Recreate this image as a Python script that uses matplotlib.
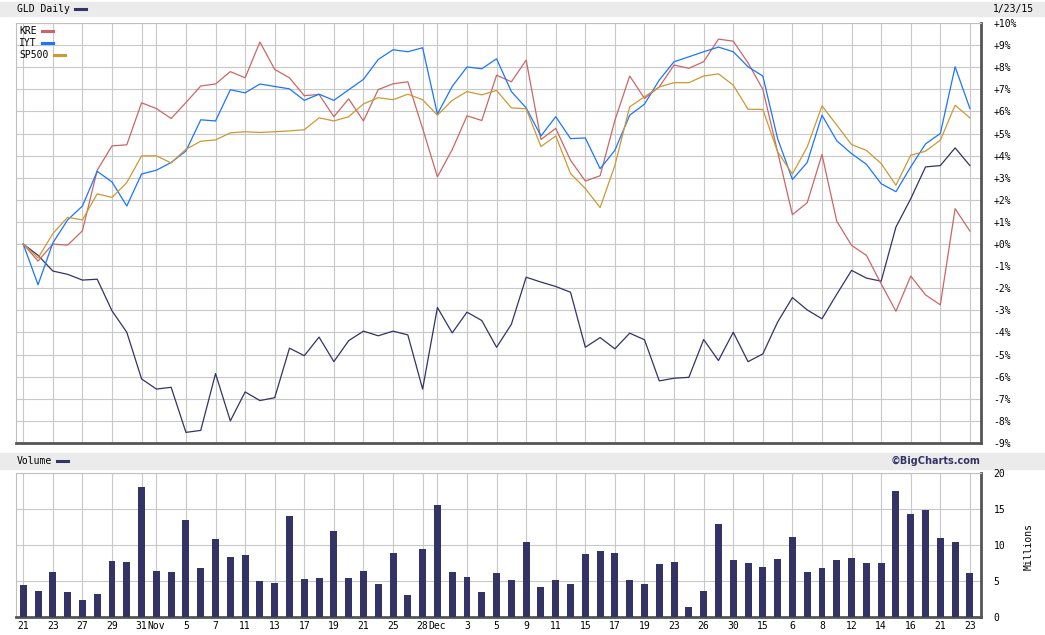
import numpy as np
import matplotlib
matplotlib.use('Agg')
import matplotlib.pyplot as plt
from matplotlib.lines import Line2D
from matplotlib.patches import Rectangle

# Dados (variação % desde 21/10/2014)
gld = [0, -0.51, -1.22, -1.37, -1.63, -1.59, -3.02, -3.99, -6.10, -6.56, -6.48, -8.52, -8.43, -5.86, -8.00, -6.69, -7.08,
       -6.95, -4.71, -5.05, -4.21, -5.32, -4.37, -3.94, -4.15, -3.94, -4.11, -6.56, -2.87, -4.02, -3.08, -3.46, -4.67, -3.63,
       -1.50, -1.72, -1.92, -2.18, -4.67, -4.23, -4.74, -4.03, -4.33, -6.19, -6.07, -6.03, -4.32, -5.27, -3.99, -5.32, -4.97,
       -3.53, -2.42, -2.98, -3.38, -2.27, -1.19, -1.54, -1.68, 0.77, 2.05, 3.49, 3.55, 4.35, 3.55]
kre = [0, -0.77, 0, -0.05, 0.6, 3.34, 4.44, 4.49, 6.39, 6.13, 5.68, 6.4, 7.15, 7.24, 7.8, 7.52, 9.14,
       7.9, 7.52, 6.71, 6.77, 5.76, 6.57, 5.57, 6.99, 7.25, 7.34, 5.23, 3.04, 4.27, 5.8, 5.59, 7.64, 7.34,
       8.32, 4.73, 5.23, 3.79, 2.85, 3.09, 5.6, 7.6, 6.59, 7.11, 8.1, 7.95, 8.25, 9.27, 9.18, 8.2, 7.0,
       4.17, 1.33, 1.87, 4.05, 1.03, -0.06, -0.51, -1.8, -3.04, -1.45, -2.3, -2.75, 1.6, 0.59]
iyt = [0, -1.84, 0.05, 1.09, 1.72, 3.29, 2.81, 1.72, 3.17, 3.34, 3.69, 4.21, 5.62, 5.57, 6.98, 6.84, 7.24,
       7.13, 7.02, 6.5, 6.78, 6.5, 6.98, 7.45, 8.35, 8.79, 8.7, 8.88, 5.88, 7.13, 8.01, 7.93, 8.38, 6.9,
       6.16, 4.89, 5.76, 4.77, 4.8, 3.41, 4.24, 5.83, 6.33, 7.42, 8.25, 8.47, 8.7, 8.91, 8.7, 8.02, 7.6,
       4.77, 2.92, 3.69, 5.83, 4.67, 4.09, 3.61, 2.73, 2.37, 3.49, 4.53, 5.0, 8.02, 6.13]
sp500 = [0, -0.63, 0.47, 1.21, 1.09, 2.27, 2.11, 2.78, 3.99, 3.99, 3.67, 4.29, 4.65, 4.71, 5.03, 5.08, 5.05,
         5.08, 5.12, 5.17, 5.71, 5.57, 5.76, 6.34, 6.62, 6.53, 6.78, 6.53, 5.83, 6.5, 6.9, 6.75, 6.95, 6.16,
         6.12, 4.41, 4.89, 3.19, 2.51, 1.65, 3.56, 6.21, 6.66, 7.11, 7.3, 7.3, 7.6, 7.7, 7.19, 6.1, 6.09,
         4.17, 3.17, 4.39, 6.25, 5.38, 4.5, 4.24, 3.64, 2.66, 4.02, 4.2, 4.7, 6.28, 5.71]
volume = [4.46, 3.6, 6.3, 3.5, 2.35, 3.2, 7.8, 7.7, 18.1, 6.4, 6.3, 13.5, 6.85, 10.8, 8.4, 8.55, 5.0,
          4.75, 14.0, 5.3, 5.45, 11.9, 5.45, 6.4, 4.6, 8.95, 3.05, 9.5, 15.6, 6.3, 5.6, 3.5, 6.15, 5.15,
          10.4, 4.2, 5.15, 4.6, 8.7, 9.1, 8.95, 5.15, 4.6, 7.4, 7.7, 1.35, 3.6, 12.9, 7.85, 7.55, 7.0,
          8.1, 11.1, 6.3, 6.85, 7.85, 8.25, 7.55, 7.55, 17.55, 14.3, 14.9, 10.95, 10.4, 6.15]

tick_pos = [0, 2, 4, 6, 8, 9, 11, 13, 15, 17, 19, 21, 23, 25, 27, 28, 30, 32, 34, 36, 38, 40, 42, 44,
            46, 48, 50, 52, 54, 56, 58, 60, 62, 64]
tick_lbl = ['21', '23', '27', '29', '31', 'Nov', '5', '7', '11', '13', '17', '19', '21', '25', '28', 'Dec',
            '3', '5', '9', '11', '15', '17', '19', '23', '26', '30', '15', '6', '8', '12', '14', '16', '21', '23']

navy = '#333366'
c_kre = '#cc6666'
c_iyt = '#1a75ff'
c_sp = '#cc9933'
grid_c = '#c8c8c8'
font = 'DejaVu Sans Mono'
fs = 7

W, H = 1045, 635
fig = plt.figure(figsize=(W / 100, H / 100), dpi=100)


def fx(x):
    return x / W


def fy(y):
    return 1 - y / H


x = np.arange(len(gld))
xlim = (-0.51, 64.75)

# barras cinzas de cabeçalho
fig.add_artist(Rectangle((0, fy(16)), 1, 14 / H, transform=fig.transFigure, color='#ebebeb', zorder=0))
fig.add_artist(Rectangle((0, fy(469)), 1, 16 / H, transform=fig.transFigure, color='#ebebeb', zorder=0))

# painel de preço
ax = fig.add_axes([fx(15.7), fy(443), fx(981) - fx(15.7), (443 - 23) / H])
ax.plot(x, gld, color=navy, lw=0.9)
ax.plot(x, kre, color=c_kre, lw=0.9)
ax.plot(x, iyt, color=c_iyt, lw=0.9)
ax.plot(x, sp500, color=c_sp, lw=0.9)
ax.set_xlim(xlim)
ax.set_ylim(-9, 10)
ax.set_yticks(range(-9, 11))
ax.set_yticklabels([('+%d%%' % v) if v >= 0 else ('%d%%' % v) for v in range(-9, 11)],
                   fontfamily=font, fontsize=fs)
ax.yaxis.tick_right()
ax.set_xticks(tick_pos)
ax.set_xticklabels([])
ax.tick_params(length=0, pad=9)
ax.grid(True, color=grid_c, lw=0.8)
ax.set_axisbelow(True)

# painel de volume
axv = fig.add_axes([fx(15.7), fy(617), fx(981) - fx(15.7), (617 - 473) / H])
axv.bar(x, volume, width=0.47, color=navy, zorder=3)
axv.set_xlim(xlim)
axv.set_ylim(0, 20)
axv.set_yticks([0, 5, 10, 15, 20])
axv.set_yticklabels(['0', '5', '10', '15', '20'], fontfamily=font, fontsize=fs)
axv.yaxis.tick_right()
axv.set_xticks(tick_pos)
axv.set_xticklabels(tick_lbl, fontfamily=font, fontsize=fs)
axv.tick_params(axis='y', length=0, pad=9)
axv.tick_params(axis='x', length=0, pad=3)
axv.grid(True, color=grid_c, lw=0.8)
axv.set_axisbelow(True)

for a in (ax, axv):
    a.spines['left'].set_color('#c0c0c0')
    a.spines['top'].set_color('#c0c0c0')
    a.spines['right'].set_color('#555555')
    a.spines['bottom'].set_color('#555555')
    a.spines['right'].set_linewidth(2)
    a.spines['bottom'].set_linewidth(2)

# textos e legendas
fig.text(fx(17), fy(9), 'GLD Daily', fontfamily=font, fontsize=fs, va='center', ha='left')
fig.add_artist(Line2D([fx(75), fx(86)], [fy(9), fy(9)], color=navy, lw=2.2))
fig.text(fx(1034), fy(9), '1/23/15', fontfamily=font, fontsize=fs, va='center', ha='right')

fig.text(fx(19), fy(31), 'KRE', fontfamily=font, fontsize=fs, va='center', ha='left')
fig.add_artist(Line2D([fx(42), fx(53)], [fy(31), fy(31)], color=c_kre, lw=2.2))
fig.text(fx(19), fy(43), 'IYT', fontfamily=font, fontsize=fs, va='center', ha='left')
fig.add_artist(Line2D([fx(42), fx(53)], [fy(43), fy(43)], color=c_iyt, lw=2.2))
fig.text(fx(19), fy(55), 'SP500', fontfamily=font, fontsize=fs, va='center', ha='left')
fig.add_artist(Line2D([fx(54), fx(65)], [fy(55), fy(55)], color=c_sp, lw=2.2))

fig.text(fx(17), fy(461), 'Volume', fontfamily=font, fontsize=fs, va='center', ha='left')
fig.add_artist(Line2D([fx(57), fx(68)], [fy(461), fy(461)], color=navy, lw=2.2))
fig.text(fx(980), fy(461), '\u00a9BigCharts.com', fontfamily='DejaVu Sans', fontweight='bold',
         fontsize=7, color=navy, va='center', ha='right')
fig.text(fx(1029), fy(546), 'Millions', fontfamily=font, fontsize=fs, va='center', ha='center',
         rotation=90)

fig.savefig('out.png', dpi=100)
